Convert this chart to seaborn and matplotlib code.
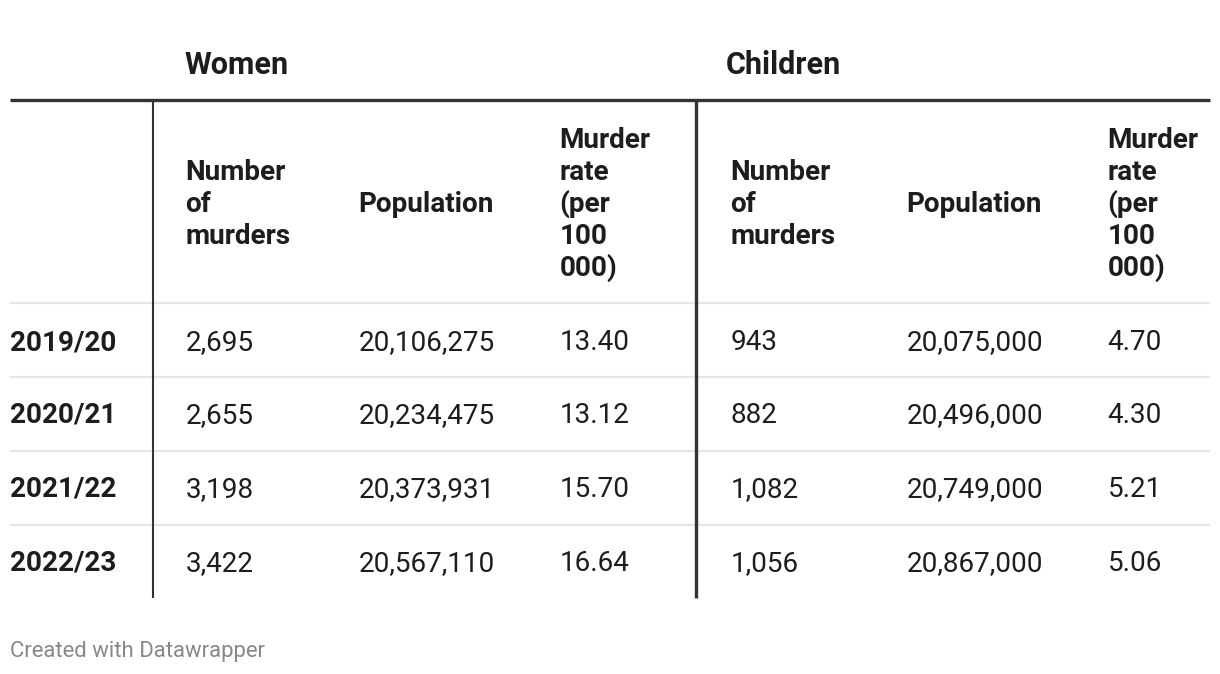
import numpy as np
import pandas as pd
import matplotlib
matplotlib.use('Agg')
import matplotlib.pyplot as plt
import seaborn as sns

# Table data
years = ['2019/20', '2020/21', '2021/22', '2022/23']
women_murders = [2695, 2655, 3198, 3422]
women_population = [20106275, 20234475, 20373931, 20567110]
women_rate = [13.40, 13.12, 15.70, 16.64]
children_murders = [943, 882, 1082, 1056]
children_population = [20075000, 20496000, 20749000, 20867000]
children_rate = [4.70, 4.30, 5.21, 5.06]

groups = ['Women', 'Children']
col_headers = ['Number\nof\nmurders', 'Population', 'Murder\nrate\n(per\n100\n000)']

df = pd.DataFrame({
    'year': years,
    'w_n': women_murders, 'w_p': women_population, 'w_r': women_rate,
    'c_n': children_murders, 'c_p': children_population, 'c_r': children_rate,
})

sns.set_style('white')
plt.rcParams['font.family'] = ['Roboto', 'DejaVu Sans']

fig = plt.figure(figsize=(12.2, 6.74), dpi=100)
ax = fig.add_axes([0, 0, 1, 1])
ax.set_xlim(0, 1220)
ax.set_ylim(674, 0)
ax.axis('off')

dark = '#333333'
txt = '#1d1d1d'
fs = 20.1
line_h = 32

# group headers (baseline positions)
group_x = [184, 726]
for g, gx in zip(groups, group_x):
    ax.text(gx, 73.5, g, fontsize=22, fontweight='bold', color=txt, va='baseline', ha='left')

# column headers, one text per line
col_x = [185.5, 358.5, 559.5, 730.5, 906.5, 1107.5]
header_base = 212
for i, cx in enumerate(col_x):
    lines = col_headers[i % 3].split('\n')
    n = len(lines)
    for k, ln in enumerate(lines):
        y = header_base + (k - (n - 1) / 2) * line_h
        ax.text(cx, y, ln, fontsize=fs, fontweight='bold', color=txt, va='baseline', ha='left')

# rows
row_base = [350, 423, 497, 571]
for r, ry in zip(df.itertuples(), row_base):
    ax.text(10, ry, r.year, fontsize=fs, fontweight='bold', color=txt, va='baseline', ha='left')
    vals = [f'{r.w_n:,}', f'{r.w_p:,}', f'{r.w_r:.2f}',
            f'{r.c_n:,}', f'{r.c_p:,}', f'{r.c_r:.2f}']
    for v, cx in zip(vals, col_x):
        ax.text(cx, ry, v, fontsize=fs, color=txt, va='baseline', ha='left')

# separators
for y in [303, 377, 451, 525]:
    ax.plot([10, 1210], [y, y], color='#e6e6e6', lw=1.5, solid_capstyle='butt', zorder=1)
ax.plot([10, 1210], [100, 100], color=dark, lw=2.4, solid_capstyle='butt', zorder=3)
ax.plot([153, 153], [100, 598], color=dark, lw=1.5, solid_capstyle='butt', zorder=2)
ax.plot([696, 696], [100, 598], color=dark, lw=2.4, solid_capstyle='butt', zorder=2)

ax.text(10, 657, 'Created with Datawrapper', fontsize=15.9, color='#888888', va='baseline', ha='left')

fig.savefig('out.png', dpi=100, facecolor='white')
